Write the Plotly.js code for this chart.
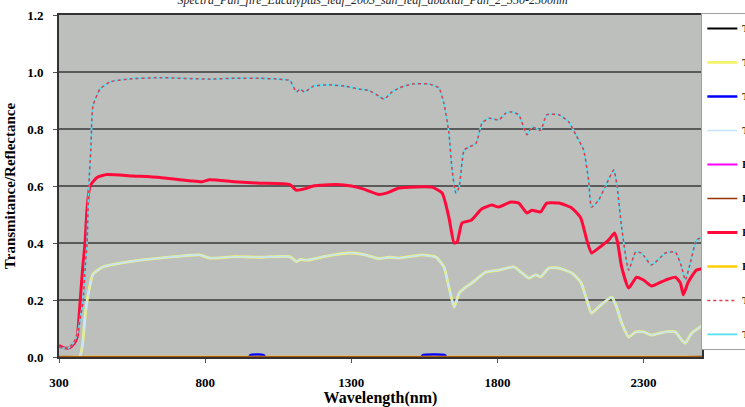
<!DOCTYPE html>
<html>
<head>
<meta charset="utf-8">
<script src="https://cdn.plot.ly/plotly-3.0.1.min.js"></script>
<style>html,body{margin:0;padding:0;background:#fff;overflow:hidden}#chart{width:745px;height:407px}</style>
</head>
<body>
<div id="chart"></div>
<script>
// ---- data ----
const seriesNames = ["Transmitance_1", "Transmitance_2", "Transmitance_3", "Transmitance_4",
  "Reflectance_1", "Reflectance_2", "Reflectance_3", "Reflectance_4",
  "Transmitance_5", "Transmitance_6"];

const wlZero = [300, 2500];
const valZero = [0, 0];

const wlBlue = [300, 950, 955, 1000, 1005, 1540, 1545, 1620, 1625, 2500];
const valBlue = [0, 0, 0.007, 0.007, 0, 0, 0.007, 0.007, 0, 0];

const wlTop = [300, 330, 350, 365, 375, 382, 390, 396, 402, 409, 416, 440, 474, 532, 645, 815, 900, 986, 1050, 1090, 1112, 1125, 1140, 1170, 1225, 1280, 1327, 1360, 1395, 1412, 1440, 1464, 1508, 1566, 1600, 1617, 1634, 1645, 1658, 1669, 1686, 1703, 1727, 1747, 1771, 1805, 1829, 1849, 1873, 1901, 1918, 1948, 1969, 2010, 2044, 2068, 2095, 2112, 2122, 2146, 2170, 2198, 2208, 2225, 2249, 2273, 2293, 2327, 2375, 2409, 2430, 2443, 2460, 2481, 2500];
const valTop = [0.035, 0.03, 0.05, 0.09, 0.15, 0.19, 0.32, 0.40, 0.60, 0.73, 0.88, 0.94, 0.965, 0.975, 0.98, 0.975, 0.978, 0.978, 0.975, 0.97, 0.93, 0.94, 0.93, 0.95, 0.955, 0.95, 0.94, 0.935, 0.915, 0.905, 0.93, 0.944, 0.958, 0.958, 0.944, 0.89, 0.786, 0.656, 0.575, 0.596, 0.726, 0.737, 0.75, 0.82, 0.838, 0.832, 0.856, 0.86, 0.85, 0.78, 0.807, 0.796, 0.85, 0.85, 0.825, 0.78, 0.726, 0.62, 0.526, 0.55, 0.60, 0.656, 0.61, 0.456, 0.305, 0.368, 0.365, 0.323, 0.365, 0.368, 0.316, 0.27, 0.33, 0.41, 0.42];

const wlRed = [300, 315, 335, 350, 362, 372, 380, 389, 396, 406, 430, 464, 550, 645, 790, 815, 900, 986, 1090, 1112, 1140, 1170, 1250, 1300, 1340, 1395, 1420, 1464, 1576, 1611, 1634, 1652, 1662, 1679, 1710, 1747, 1781, 1805, 1846, 1873, 1901, 1918, 1948, 1969, 2010, 2054, 2085, 2106, 2122, 2146, 2180, 2201, 2211, 2225, 2249, 2276, 2300, 2327, 2375, 2409, 2426, 2436, 2453, 2481, 2500];
const valRed = [0.04, 0.033, 0.032, 0.045, 0.07, 0.19, 0.30, 0.40, 0.52, 0.60, 0.63, 0.64, 0.635, 0.63, 0.615, 0.622, 0.615, 0.61, 0.605, 0.585, 0.59, 0.60, 0.605, 0.60, 0.59, 0.57, 0.575, 0.593, 0.596, 0.575, 0.49, 0.40, 0.403, 0.47, 0.48, 0.52, 0.533, 0.526, 0.544, 0.54, 0.505, 0.515, 0.509, 0.54, 0.54, 0.523, 0.488, 0.41, 0.365, 0.382, 0.41, 0.435, 0.403, 0.316, 0.242, 0.28, 0.27, 0.249, 0.27, 0.28, 0.26, 0.218, 0.263, 0.305, 0.31];

const wlGreen = [300, 370, 380, 390, 400, 416, 450, 532, 645, 781, 815, 900, 986, 1090, 1112, 1125, 1150, 1220, 1293, 1340, 1395, 1430, 1464, 1542, 1590, 1617, 1634, 1652, 1669, 1693, 1713, 1761, 1805, 1856, 1884, 1907, 1931, 1948, 1976, 2010, 2054, 2085, 2106, 2122, 2146, 2191, 2208, 2225, 2249, 2273, 2300, 2327, 2375, 2409, 2430, 2443, 2465, 2500];
const valGreen = [0, 0, 0.04, 0.15, 0.22, 0.29, 0.316, 0.333, 0.347, 0.358, 0.347, 0.352, 0.35, 0.352, 0.335, 0.342, 0.34, 0.355, 0.365, 0.36, 0.345, 0.35, 0.347, 0.358, 0.35, 0.316, 0.246, 0.175, 0.224, 0.246, 0.26, 0.298, 0.305, 0.316, 0.295, 0.277, 0.288, 0.281, 0.312, 0.312, 0.295, 0.263, 0.2, 0.154, 0.175, 0.21, 0.175, 0.12, 0.07, 0.088, 0.088, 0.077, 0.088, 0.088, 0.06, 0.049, 0.084, 0.109];

const xTicks = [300, 800, 1300, 1800, 2300];
const yTicks = [0, 0.2, 0.4, 0.6, 0.8, 1.0, 1.2];

// ---- traces ----
function tr(i, x, y, color, width, dash, rank) {
  return {x: x, y: y, name: '<b>' + seriesNames[i] + '</b>', type: 'scatter', mode: 'lines',
    legendgroup: 'g' + i,
    line: {color: color, width: width, dash: dash || 'solid', shape: 'spline', smoothing: 0.5},
    legendrank: rank, hoverinfo: 'skip'};
}
const data = [
  tr(0, wlZero, valZero, '#000000', 2, null, 1),
  tr(1, wlGreen, valGreen, '#f4f46a', 2.8, null, 2),
  tr(2, wlBlue, valBlue, '#0000ff', 2.5, null, 3),
  tr(3, wlGreen, valGreen, '#c4e4ff', 1.6, null, 4),
  tr(4, wlZero, valZero, '#ff00ff', 2, null, 5),
  tr(7, wlZero, valZero, '#ffcc00', 2.5, null, 8),
  tr(5, wlZero, valZero, '#993300', 1.5, null, 6),
  tr(6, wlRed, valRed, '#ff0a3a', 3, null, 7),
  tr(9, wlTop, valTop, '#55e0f0', 1.8, null, 10),
  tr(8, wlTop, valTop, '#e03a4a', 1.5, 'dot', 9)
];

const font = {family: 'Liberation Serif', color: '#000'};

const layout = {
  width: 745, height: 407,
  margin: {l: 59, r: 43, t: 15, b: 50, pad: 0, autoexpand: false},
  paper_bgcolor: '#ffffff',
  plot_bgcolor: '#bcbfbb',
  showlegend: true,
  title: {text: '<i>Spectra_Pan_fire_Eucalyptus_leaf_2003_sun_leaf_abaxial_Pan_2_350-2500nm</i>',
    font: Object.assign({}, font, {size: 12, color: '#222'}), x: 0.5, xanchor: 'center', y: 1.0, yref: 'container', yanchor: 'middle'},
  xaxis: {
    range: [300, 2500], tickvals: xTicks, ticktext: xTicks.map(v => '<b>' + v + '</b>'),
    ticks: 'outside', ticklen: 4, tickcolor: '#555', tickwidth: 1,
    ticklabelstandoff: 8,
    showgrid: false, zeroline: false,
    showline: true, linecolor: '#333', linewidth: 2, mirror: true,
    tickfont: Object.assign({}, font, {size: 13}),
    title: {text: '<b>Wavelength(nm)</b>', font: Object.assign({}, font, {size: 16}), standoff: 1}
  },
  yaxis: {
    range: [0, 1.2], tickvals: yTicks, ticktext: yTicks.map(v => '<b>' + v.toFixed(1) + '</b>'),
    ticks: 'outside', ticklen: 4, tickcolor: '#555', tickwidth: 1,
    ticklabelstandoff: 7,
    showgrid: true, gridcolor: '#5a5a5a', gridwidth: 1.5, zeroline: false,
    showline: true, linecolor: '#333', linewidth: 2, mirror: true,
    tickfont: Object.assign({}, font, {size: 13}),
    title: {text: '<b>Transmitance/Reflectance</b>', font: Object.assign({}, font, {size: 15}), standoff: 8}
  },
  legend: {
    x: 0.999, xanchor: 'left', y: 1.006, yanchor: 'top',
    bgcolor: '#ffffff', bordercolor: '#a0a0a0', borderwidth: 1,
    font: Object.assign({}, font, {size: 10}),
    traceorder: 'grouped', tracegroupgap: 15, itemwidth: 30,
    maxheight: 400
  }
};

Plotly.newPlot('chart', data, layout, {staticPlot: true, displayModeBar: false});
</script>
</body>
</html>
